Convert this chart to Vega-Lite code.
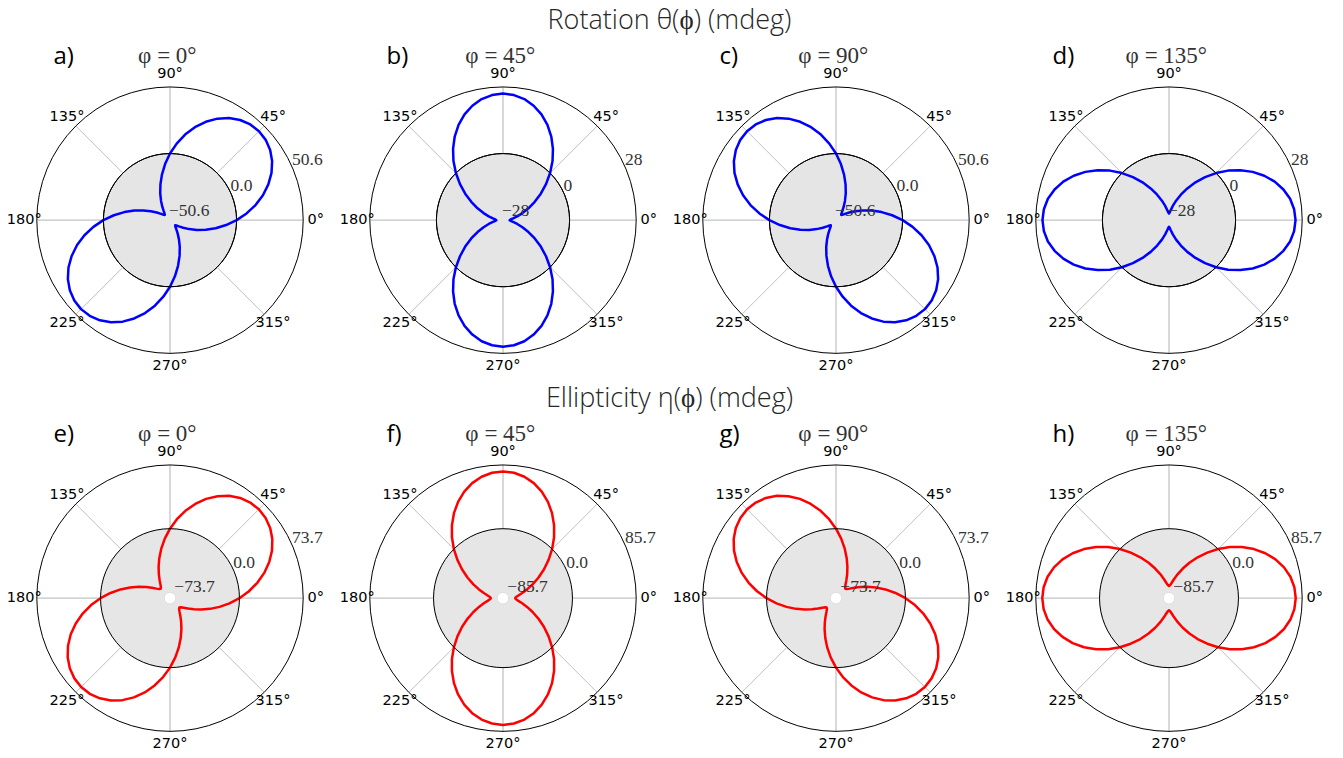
{
  "$schema": "https://vega.github.io/schema/vega-lite/v6.json",
  "padding": {"left": 3.5, "top": 7, "right": 0, "bottom": 0},
  "config": {"view": {"stroke": null}, "axis": {"disable": true}},
  "datasets": {
    "angles": [
      {"a": 0, "l": "0°"}, {"a": 45, "l": "45°"}, {"a": 90, "l": "90°"}, {"a": 135, "l": "135°"},
      {"a": 180, "l": "180°"}, {"a": 225, "l": "225°"}, {"a": 270, "l": "270°"}, {"a": 315, "l": "315°"}
    ],
    "ticks": [
      {"p": "a", "v": -50.6, "l": "−50.6"}, {"p": "a", "v": 0, "l": "0.0"}, {"p": "a", "v": 50.6, "l": "50.6"},
      {"p": "b", "v": -28, "l": "−28"}, {"p": "b", "v": 0, "l": "0"}, {"p": "b", "v": 28, "l": "28"},
      {"p": "c", "v": -50.6, "l": "−50.6"}, {"p": "c", "v": 0, "l": "0.0"}, {"p": "c", "v": 50.6, "l": "50.6"},
      {"p": "d", "v": -28, "l": "−28"}, {"p": "d", "v": 0, "l": "0"}, {"p": "d", "v": 28, "l": "28"},
      {"p": "e", "v": -73.7, "l": "−73.7"}, {"p": "e", "v": 0, "l": "0.0"}, {"p": "e", "v": 73.7, "l": "73.7"},
      {"p": "f", "v": -85.7, "l": "−85.7"}, {"p": "f", "v": 0, "l": "0.0"}, {"p": "f", "v": 85.7, "l": "85.7"},
      {"p": "g", "v": -73.7, "l": "−73.7"}, {"p": "g", "v": 0, "l": "0.0"}, {"p": "g", "v": 73.7, "l": "73.7"},
      {"p": "h", "v": -85.7, "l": "−85.7"}, {"p": "h", "v": 0, "l": "0.0"}, {"p": "h", "v": 85.7, "l": "85.7"}
    ],
    "curves": [
      {"p":"a","t":0,"v":0},{"p":"a","t":5,"v":7.8},{"p":"a","t":10,"v":15.4},{"p":"a","t":15,"v":22.5},{"p":"a","t":20,"v":28.9},{"p":"a","t":25,"v":34.5},{"p":"a","t":30,"v":39},{"p":"a","t":35,"v":42.3},{"p":"a","t":40,"v":44.3},{"p":"a","t":45,"v":45},{"p":"a","t":50,"v":44.3},{"p":"a","t":55,"v":42.3},{"p":"a","t":60,"v":39},{"p":"a","t":65,"v":34.5},{"p":"a","t":70,"v":28.9},{"p":"a","t":75,"v":22.5},{"p":"a","t":80,"v":15.4},{"p":"a","t":85,"v":7.8},
      {"p":"a","t":90,"v":0},{"p":"a","t":95,"v":-7.8},{"p":"a","t":100,"v":-15.4},{"p":"a","t":105,"v":-22.5},{"p":"a","t":110,"v":-28.9},{"p":"a","t":115,"v":-34.5},{"p":"a","t":120,"v":-39},{"p":"a","t":125,"v":-42.3},{"p":"a","t":130,"v":-44.3},{"p":"a","t":135,"v":-45},{"p":"a","t":140,"v":-44.3},{"p":"a","t":145,"v":-42.3},{"p":"a","t":150,"v":-39},{"p":"a","t":155,"v":-34.5},{"p":"a","t":160,"v":-28.9},{"p":"a","t":165,"v":-22.5},{"p":"a","t":170,"v":-15.4},{"p":"a","t":175,"v":-7.8},
      {"p":"a","t":180,"v":0},{"p":"a","t":185,"v":7.8},{"p":"a","t":190,"v":15.4},{"p":"a","t":195,"v":22.5},{"p":"a","t":200,"v":28.9},{"p":"a","t":205,"v":34.5},{"p":"a","t":210,"v":39},{"p":"a","t":215,"v":42.3},{"p":"a","t":220,"v":44.3},{"p":"a","t":225,"v":45},{"p":"a","t":230,"v":44.3},{"p":"a","t":235,"v":42.3},{"p":"a","t":240,"v":39},{"p":"a","t":245,"v":34.5},{"p":"a","t":250,"v":28.9},{"p":"a","t":255,"v":22.5},{"p":"a","t":260,"v":15.4},{"p":"a","t":265,"v":7.8},
      {"p":"a","t":270,"v":0},{"p":"a","t":275,"v":-7.8},{"p":"a","t":280,"v":-15.4},{"p":"a","t":285,"v":-22.5},{"p":"a","t":290,"v":-28.9},{"p":"a","t":295,"v":-34.5},{"p":"a","t":300,"v":-39},{"p":"a","t":305,"v":-42.3},{"p":"a","t":310,"v":-44.3},{"p":"a","t":315,"v":-45},{"p":"a","t":320,"v":-44.3},{"p":"a","t":325,"v":-42.3},{"p":"a","t":330,"v":-39},{"p":"a","t":335,"v":-34.5},{"p":"a","t":340,"v":-28.9},{"p":"a","t":345,"v":-22.5},{"p":"a","t":350,"v":-15.4},{"p":"a","t":355,"v":-7.8},

      {"p":"b","t":0,"v":-25.2},{"p":"b","t":5,"v":-24.8},{"p":"b","t":10,"v":-23.7},{"p":"b","t":15,"v":-21.8},{"p":"b","t":20,"v":-19.3},{"p":"b","t":25,"v":-16.2},{"p":"b","t":30,"v":-12.6},{"p":"b","t":35,"v":-8.6},{"p":"b","t":40,"v":-4.4},{"p":"b","t":45,"v":0},{"p":"b","t":50,"v":4.4},{"p":"b","t":55,"v":8.6},{"p":"b","t":60,"v":12.6},{"p":"b","t":65,"v":16.2},{"p":"b","t":70,"v":19.3},{"p":"b","t":75,"v":21.8},{"p":"b","t":80,"v":23.7},{"p":"b","t":85,"v":24.8},
      {"p":"b","t":90,"v":25.2},{"p":"b","t":95,"v":24.8},{"p":"b","t":100,"v":23.7},{"p":"b","t":105,"v":21.8},{"p":"b","t":110,"v":19.3},{"p":"b","t":115,"v":16.2},{"p":"b","t":120,"v":12.6},{"p":"b","t":125,"v":8.6},{"p":"b","t":130,"v":4.4},{"p":"b","t":135,"v":0},{"p":"b","t":140,"v":-4.4},{"p":"b","t":145,"v":-8.6},{"p":"b","t":150,"v":-12.6},{"p":"b","t":155,"v":-16.2},{"p":"b","t":160,"v":-19.3},{"p":"b","t":165,"v":-21.8},{"p":"b","t":170,"v":-23.7},{"p":"b","t":175,"v":-24.8},
      {"p":"b","t":180,"v":-25.2},{"p":"b","t":185,"v":-24.8},{"p":"b","t":190,"v":-23.7},{"p":"b","t":195,"v":-21.8},{"p":"b","t":200,"v":-19.3},{"p":"b","t":205,"v":-16.2},{"p":"b","t":210,"v":-12.6},{"p":"b","t":215,"v":-8.6},{"p":"b","t":220,"v":-4.4},{"p":"b","t":225,"v":0},{"p":"b","t":230,"v":4.4},{"p":"b","t":235,"v":8.6},{"p":"b","t":240,"v":12.6},{"p":"b","t":245,"v":16.2},{"p":"b","t":250,"v":19.3},{"p":"b","t":255,"v":21.8},{"p":"b","t":260,"v":23.7},{"p":"b","t":265,"v":24.8},
      {"p":"b","t":270,"v":25.2},{"p":"b","t":275,"v":24.8},{"p":"b","t":280,"v":23.7},{"p":"b","t":285,"v":21.8},{"p":"b","t":290,"v":19.3},{"p":"b","t":295,"v":16.2},{"p":"b","t":300,"v":12.6},{"p":"b","t":305,"v":8.6},{"p":"b","t":310,"v":4.4},{"p":"b","t":315,"v":0},{"p":"b","t":320,"v":-4.4},{"p":"b","t":325,"v":-8.6},{"p":"b","t":330,"v":-12.6},{"p":"b","t":335,"v":-16.2},{"p":"b","t":340,"v":-19.3},{"p":"b","t":345,"v":-21.8},{"p":"b","t":350,"v":-23.7},{"p":"b","t":355,"v":-24.8},

      {"p":"c","t":0,"v":0},{"p":"c","t":5,"v":-7.8},{"p":"c","t":10,"v":-15.4},{"p":"c","t":15,"v":-22.5},{"p":"c","t":20,"v":-28.9},{"p":"c","t":25,"v":-34.5},{"p":"c","t":30,"v":-39},{"p":"c","t":35,"v":-42.3},{"p":"c","t":40,"v":-44.3},{"p":"c","t":45,"v":-45},{"p":"c","t":50,"v":-44.3},{"p":"c","t":55,"v":-42.3},{"p":"c","t":60,"v":-39},{"p":"c","t":65,"v":-34.5},{"p":"c","t":70,"v":-28.9},{"p":"c","t":75,"v":-22.5},{"p":"c","t":80,"v":-15.4},{"p":"c","t":85,"v":-7.8},
      {"p":"c","t":90,"v":0},{"p":"c","t":95,"v":7.8},{"p":"c","t":100,"v":15.4},{"p":"c","t":105,"v":22.5},{"p":"c","t":110,"v":28.9},{"p":"c","t":115,"v":34.5},{"p":"c","t":120,"v":39},{"p":"c","t":125,"v":42.3},{"p":"c","t":130,"v":44.3},{"p":"c","t":135,"v":45},{"p":"c","t":140,"v":44.3},{"p":"c","t":145,"v":42.3},{"p":"c","t":150,"v":39},{"p":"c","t":155,"v":34.5},{"p":"c","t":160,"v":28.9},{"p":"c","t":165,"v":22.5},{"p":"c","t":170,"v":15.4},{"p":"c","t":175,"v":7.8},
      {"p":"c","t":180,"v":0},{"p":"c","t":185,"v":-7.8},{"p":"c","t":190,"v":-15.4},{"p":"c","t":195,"v":-22.5},{"p":"c","t":200,"v":-28.9},{"p":"c","t":205,"v":-34.5},{"p":"c","t":210,"v":-39},{"p":"c","t":215,"v":-42.3},{"p":"c","t":220,"v":-44.3},{"p":"c","t":225,"v":-45},{"p":"c","t":230,"v":-44.3},{"p":"c","t":235,"v":-42.3},{"p":"c","t":240,"v":-39},{"p":"c","t":245,"v":-34.5},{"p":"c","t":250,"v":-28.9},{"p":"c","t":255,"v":-22.5},{"p":"c","t":260,"v":-15.4},{"p":"c","t":265,"v":-7.8},
      {"p":"c","t":270,"v":0},{"p":"c","t":275,"v":7.8},{"p":"c","t":280,"v":15.4},{"p":"c","t":285,"v":22.5},{"p":"c","t":290,"v":28.9},{"p":"c","t":295,"v":34.5},{"p":"c","t":300,"v":39},{"p":"c","t":305,"v":42.3},{"p":"c","t":310,"v":44.3},{"p":"c","t":315,"v":45},{"p":"c","t":320,"v":44.3},{"p":"c","t":325,"v":42.3},{"p":"c","t":330,"v":39},{"p":"c","t":335,"v":34.5},{"p":"c","t":340,"v":28.9},{"p":"c","t":345,"v":22.5},{"p":"c","t":350,"v":15.4},{"p":"c","t":355,"v":7.8},

      {"p":"d","t":0,"v":25.2},{"p":"d","t":5,"v":24.8},{"p":"d","t":10,"v":23.7},{"p":"d","t":15,"v":21.8},{"p":"d","t":20,"v":19.3},{"p":"d","t":25,"v":16.2},{"p":"d","t":30,"v":12.6},{"p":"d","t":35,"v":8.6},{"p":"d","t":40,"v":4.4},{"p":"d","t":45,"v":0},{"p":"d","t":50,"v":-4.4},{"p":"d","t":55,"v":-8.6},{"p":"d","t":60,"v":-12.6},{"p":"d","t":65,"v":-16.2},{"p":"d","t":70,"v":-19.3},{"p":"d","t":75,"v":-21.8},{"p":"d","t":80,"v":-23.7},{"p":"d","t":85,"v":-24.8},
      {"p":"d","t":90,"v":-25.2},{"p":"d","t":95,"v":-24.8},{"p":"d","t":100,"v":-23.7},{"p":"d","t":105,"v":-21.8},{"p":"d","t":110,"v":-19.3},{"p":"d","t":115,"v":-16.2},{"p":"d","t":120,"v":-12.6},{"p":"d","t":125,"v":-8.6},{"p":"d","t":130,"v":-4.4},{"p":"d","t":135,"v":0},{"p":"d","t":140,"v":4.4},{"p":"d","t":145,"v":8.6},{"p":"d","t":150,"v":12.6},{"p":"d","t":155,"v":16.2},{"p":"d","t":160,"v":19.3},{"p":"d","t":165,"v":21.8},{"p":"d","t":170,"v":23.7},{"p":"d","t":175,"v":24.8},
      {"p":"d","t":180,"v":25.2},{"p":"d","t":185,"v":24.8},{"p":"d","t":190,"v":23.7},{"p":"d","t":195,"v":21.8},{"p":"d","t":200,"v":19.3},{"p":"d","t":205,"v":16.2},{"p":"d","t":210,"v":12.6},{"p":"d","t":215,"v":8.6},{"p":"d","t":220,"v":4.4},{"p":"d","t":225,"v":0},{"p":"d","t":230,"v":-4.4},{"p":"d","t":235,"v":-8.6},{"p":"d","t":240,"v":-12.6},{"p":"d","t":245,"v":-16.2},{"p":"d","t":250,"v":-19.3},{"p":"d","t":255,"v":-21.8},{"p":"d","t":260,"v":-23.7},{"p":"d","t":265,"v":-24.8},
      {"p":"d","t":270,"v":-25.2},{"p":"d","t":275,"v":-24.8},{"p":"d","t":280,"v":-23.7},{"p":"d","t":285,"v":-21.8},{"p":"d","t":290,"v":-19.3},{"p":"d","t":295,"v":-16.2},{"p":"d","t":300,"v":-12.6},{"p":"d","t":305,"v":-8.6},{"p":"d","t":310,"v":-4.4},{"p":"d","t":315,"v":0},{"p":"d","t":320,"v":4.4},{"p":"d","t":325,"v":8.6},{"p":"d","t":330,"v":12.6},{"p":"d","t":335,"v":16.2},{"p":"d","t":340,"v":19.3},{"p":"d","t":345,"v":21.8},{"p":"d","t":350,"v":23.7},{"p":"d","t":355,"v":24.8},

      {"p":"e","t":0,"v":0},{"p":"e","t":5,"v":11.3},{"p":"e","t":10,"v":22.2},{"p":"e","t":15,"v":32.5},{"p":"e","t":20,"v":41.8},{"p":"e","t":25,"v":49.8},{"p":"e","t":30,"v":56.3},{"p":"e","t":35,"v":61.1},{"p":"e","t":40,"v":64},{"p":"e","t":45,"v":65},{"p":"e","t":50,"v":64},{"p":"e","t":55,"v":61.1},{"p":"e","t":60,"v":56.3},{"p":"e","t":65,"v":49.8},{"p":"e","t":70,"v":41.8},{"p":"e","t":75,"v":32.5},{"p":"e","t":80,"v":22.2},{"p":"e","t":85,"v":11.3},
      {"p":"e","t":90,"v":0},{"p":"e","t":95,"v":-11.3},{"p":"e","t":100,"v":-22.2},{"p":"e","t":105,"v":-32.5},{"p":"e","t":110,"v":-41.8},{"p":"e","t":115,"v":-49.8},{"p":"e","t":120,"v":-56.3},{"p":"e","t":125,"v":-61.1},{"p":"e","t":130,"v":-64},{"p":"e","t":135,"v":-65},{"p":"e","t":140,"v":-64},{"p":"e","t":145,"v":-61.1},{"p":"e","t":150,"v":-56.3},{"p":"e","t":155,"v":-49.8},{"p":"e","t":160,"v":-41.8},{"p":"e","t":165,"v":-32.5},{"p":"e","t":170,"v":-22.2},{"p":"e","t":175,"v":-11.3},
      {"p":"e","t":180,"v":0},{"p":"e","t":185,"v":11.3},{"p":"e","t":190,"v":22.2},{"p":"e","t":195,"v":32.5},{"p":"e","t":200,"v":41.8},{"p":"e","t":205,"v":49.8},{"p":"e","t":210,"v":56.3},{"p":"e","t":215,"v":61.1},{"p":"e","t":220,"v":64},{"p":"e","t":225,"v":65},{"p":"e","t":230,"v":64},{"p":"e","t":235,"v":61.1},{"p":"e","t":240,"v":56.3},{"p":"e","t":245,"v":49.8},{"p":"e","t":250,"v":41.8},{"p":"e","t":255,"v":32.5},{"p":"e","t":260,"v":22.2},{"p":"e","t":265,"v":11.3},
      {"p":"e","t":270,"v":0},{"p":"e","t":275,"v":-11.3},{"p":"e","t":280,"v":-22.2},{"p":"e","t":285,"v":-32.5},{"p":"e","t":290,"v":-41.8},{"p":"e","t":295,"v":-49.8},{"p":"e","t":300,"v":-56.3},{"p":"e","t":305,"v":-61.1},{"p":"e","t":310,"v":-64},{"p":"e","t":315,"v":-65},{"p":"e","t":320,"v":-64},{"p":"e","t":325,"v":-61.1},{"p":"e","t":330,"v":-56.3},{"p":"e","t":335,"v":-49.8},{"p":"e","t":340,"v":-41.8},{"p":"e","t":345,"v":-32.5},{"p":"e","t":350,"v":-22.2},{"p":"e","t":355,"v":-11.3},

      {"p":"f","t":0,"v":-77},{"p":"f","t":5,"v":-75.8},{"p":"f","t":10,"v":-72.4},{"p":"f","t":15,"v":-66.7},{"p":"f","t":20,"v":-59},{"p":"f","t":25,"v":-49.5},{"p":"f","t":30,"v":-38.5},{"p":"f","t":35,"v":-26.3},{"p":"f","t":40,"v":-13.4},{"p":"f","t":45,"v":0},{"p":"f","t":50,"v":13.4},{"p":"f","t":55,"v":26.3},{"p":"f","t":60,"v":38.5},{"p":"f","t":65,"v":49.5},{"p":"f","t":70,"v":59},{"p":"f","t":75,"v":66.7},{"p":"f","t":80,"v":72.4},{"p":"f","t":85,"v":75.8},
      {"p":"f","t":90,"v":77},{"p":"f","t":95,"v":75.8},{"p":"f","t":100,"v":72.4},{"p":"f","t":105,"v":66.7},{"p":"f","t":110,"v":59},{"p":"f","t":115,"v":49.5},{"p":"f","t":120,"v":38.5},{"p":"f","t":125,"v":26.3},{"p":"f","t":130,"v":13.4},{"p":"f","t":135,"v":0},{"p":"f","t":140,"v":-13.4},{"p":"f","t":145,"v":-26.3},{"p":"f","t":150,"v":-38.5},{"p":"f","t":155,"v":-49.5},{"p":"f","t":160,"v":-59},{"p":"f","t":165,"v":-66.7},{"p":"f","t":170,"v":-72.4},{"p":"f","t":175,"v":-75.8},
      {"p":"f","t":180,"v":-77},{"p":"f","t":185,"v":-75.8},{"p":"f","t":190,"v":-72.4},{"p":"f","t":195,"v":-66.7},{"p":"f","t":200,"v":-59},{"p":"f","t":205,"v":-49.5},{"p":"f","t":210,"v":-38.5},{"p":"f","t":215,"v":-26.3},{"p":"f","t":220,"v":-13.4},{"p":"f","t":225,"v":0},{"p":"f","t":230,"v":13.4},{"p":"f","t":235,"v":26.3},{"p":"f","t":240,"v":38.5},{"p":"f","t":245,"v":49.5},{"p":"f","t":250,"v":59},{"p":"f","t":255,"v":66.7},{"p":"f","t":260,"v":72.4},{"p":"f","t":265,"v":75.8},
      {"p":"f","t":270,"v":77},{"p":"f","t":275,"v":75.8},{"p":"f","t":280,"v":72.4},{"p":"f","t":285,"v":66.7},{"p":"f","t":290,"v":59},{"p":"f","t":295,"v":49.5},{"p":"f","t":300,"v":38.5},{"p":"f","t":305,"v":26.3},{"p":"f","t":310,"v":13.4},{"p":"f","t":315,"v":0},{"p":"f","t":320,"v":-13.4},{"p":"f","t":325,"v":-26.3},{"p":"f","t":330,"v":-38.5},{"p":"f","t":335,"v":-49.5},{"p":"f","t":340,"v":-59},{"p":"f","t":345,"v":-66.7},{"p":"f","t":350,"v":-72.4},{"p":"f","t":355,"v":-75.8},

      {"p":"g","t":0,"v":0},{"p":"g","t":5,"v":-11.3},{"p":"g","t":10,"v":-22.2},{"p":"g","t":15,"v":-32.5},{"p":"g","t":20,"v":-41.8},{"p":"g","t":25,"v":-49.8},{"p":"g","t":30,"v":-56.3},{"p":"g","t":35,"v":-61.1},{"p":"g","t":40,"v":-64},{"p":"g","t":45,"v":-65},{"p":"g","t":50,"v":-64},{"p":"g","t":55,"v":-61.1},{"p":"g","t":60,"v":-56.3},{"p":"g","t":65,"v":-49.8},{"p":"g","t":70,"v":-41.8},{"p":"g","t":75,"v":-32.5},{"p":"g","t":80,"v":-22.2},{"p":"g","t":85,"v":-11.3},
      {"p":"g","t":90,"v":0},{"p":"g","t":95,"v":11.3},{"p":"g","t":100,"v":22.2},{"p":"g","t":105,"v":32.5},{"p":"g","t":110,"v":41.8},{"p":"g","t":115,"v":49.8},{"p":"g","t":120,"v":56.3},{"p":"g","t":125,"v":61.1},{"p":"g","t":130,"v":64},{"p":"g","t":135,"v":65},{"p":"g","t":140,"v":64},{"p":"g","t":145,"v":61.1},{"p":"g","t":150,"v":56.3},{"p":"g","t":155,"v":49.8},{"p":"g","t":160,"v":41.8},{"p":"g","t":165,"v":32.5},{"p":"g","t":170,"v":22.2},{"p":"g","t":175,"v":11.3},
      {"p":"g","t":180,"v":0},{"p":"g","t":185,"v":-11.3},{"p":"g","t":190,"v":-22.2},{"p":"g","t":195,"v":-32.5},{"p":"g","t":200,"v":-41.8},{"p":"g","t":205,"v":-49.8},{"p":"g","t":210,"v":-56.3},{"p":"g","t":215,"v":-61.1},{"p":"g","t":220,"v":-64},{"p":"g","t":225,"v":-65},{"p":"g","t":230,"v":-64},{"p":"g","t":235,"v":-61.1},{"p":"g","t":240,"v":-56.3},{"p":"g","t":245,"v":-49.8},{"p":"g","t":250,"v":-41.8},{"p":"g","t":255,"v":-32.5},{"p":"g","t":260,"v":-22.2},{"p":"g","t":265,"v":-11.3},
      {"p":"g","t":270,"v":0},{"p":"g","t":275,"v":11.3},{"p":"g","t":280,"v":22.2},{"p":"g","t":285,"v":32.5},{"p":"g","t":290,"v":41.8},{"p":"g","t":295,"v":49.8},{"p":"g","t":300,"v":56.3},{"p":"g","t":305,"v":61.1},{"p":"g","t":310,"v":64},{"p":"g","t":315,"v":65},{"p":"g","t":320,"v":64},{"p":"g","t":325,"v":61.1},{"p":"g","t":330,"v":56.3},{"p":"g","t":335,"v":49.8},{"p":"g","t":340,"v":41.8},{"p":"g","t":345,"v":32.5},{"p":"g","t":350,"v":22.2},{"p":"g","t":355,"v":11.3},

      {"p":"h","t":0,"v":77},{"p":"h","t":5,"v":75.8},{"p":"h","t":10,"v":72.4},{"p":"h","t":15,"v":66.7},{"p":"h","t":20,"v":59},{"p":"h","t":25,"v":49.5},{"p":"h","t":30,"v":38.5},{"p":"h","t":35,"v":26.3},{"p":"h","t":40,"v":13.4},{"p":"h","t":45,"v":0},{"p":"h","t":50,"v":-13.4},{"p":"h","t":55,"v":-26.3},{"p":"h","t":60,"v":-38.5},{"p":"h","t":65,"v":-49.5},{"p":"h","t":70,"v":-59},{"p":"h","t":75,"v":-66.7},{"p":"h","t":80,"v":-72.4},{"p":"h","t":85,"v":-75.8},
      {"p":"h","t":90,"v":-77},{"p":"h","t":95,"v":-75.8},{"p":"h","t":100,"v":-72.4},{"p":"h","t":105,"v":-66.7},{"p":"h","t":110,"v":-59},{"p":"h","t":115,"v":-49.5},{"p":"h","t":120,"v":-38.5},{"p":"h","t":125,"v":-26.3},{"p":"h","t":130,"v":-13.4},{"p":"h","t":135,"v":0},{"p":"h","t":140,"v":13.4},{"p":"h","t":145,"v":26.3},{"p":"h","t":150,"v":38.5},{"p":"h","t":155,"v":49.5},{"p":"h","t":160,"v":59},{"p":"h","t":165,"v":66.7},{"p":"h","t":170,"v":72.4},{"p":"h","t":175,"v":75.8},
      {"p":"h","t":180,"v":77},{"p":"h","t":185,"v":75.8},{"p":"h","t":190,"v":72.4},{"p":"h","t":195,"v":66.7},{"p":"h","t":200,"v":59},{"p":"h","t":205,"v":49.5},{"p":"h","t":210,"v":38.5},{"p":"h","t":215,"v":26.3},{"p":"h","t":220,"v":13.4},{"p":"h","t":225,"v":0},{"p":"h","t":230,"v":-13.4},{"p":"h","t":235,"v":-26.3},{"p":"h","t":240,"v":-38.5},{"p":"h","t":245,"v":-49.5},{"p":"h","t":250,"v":-59},{"p":"h","t":255,"v":-66.7},{"p":"h","t":260,"v":-72.4},{"p":"h","t":265,"v":-75.8},
      {"p":"h","t":270,"v":-77},{"p":"h","t":275,"v":-75.8},{"p":"h","t":280,"v":-72.4},{"p":"h","t":285,"v":-66.7},{"p":"h","t":290,"v":-59},{"p":"h","t":295,"v":-49.5},{"p":"h","t":300,"v":-38.5},{"p":"h","t":305,"v":-26.3},{"p":"h","t":310,"v":-13.4},{"p":"h","t":315,"v":0},{"p":"h","t":320,"v":13.4},{"p":"h","t":325,"v":26.3},{"p":"h","t":330,"v":38.5},{"p":"h","t":335,"v":49.5},{"p":"h","t":340,"v":59},{"p":"h","t":345,"v":66.7},{"p":"h","t":350,"v":72.4},{"p":"h","t":355,"v":75.8}
    ]
  },
  "spacing": 10,
  "vconcat": [
    {
      "title": {"text": "Rotation θ(ϕ) (mdeg)", "anchor": "middle", "font": "Open Sans", "fontSize": 27, "fontWeight": 300, "color": "#262626", "offset": 4},
      "spacing": 0,
      "hconcat": [
        {
          "width": 333, "height": 336,
          "layer": [
            {"data": {"values": [{"lo": -50.6, "hi": 0}]}, "mark": {"type": "arc", "fill": "#e5e5e5", "stroke": "#000000", "strokeWidth": 1},
             "encoding": {"x": {"datum": 0, "type": "quantitative", "scale": {"domain": [-1.25, 1.25], "nice": false, "zero": false}}, "y": {"datum": 0, "type": "quantitative", "scale": {"domain": [-1.1625, 1.36], "nice": false, "zero": false}}, "theta": {"datum": 0, "type": "quantitative", "scale": {"domain": [0, 360], "range": [1.5707963267948966, -4.71238898038469]}}, "theta2": {"datum": 360}, "radius": {"field": "hi", "type": "quantitative", "scale": {"type": "linear", "zero": false, "nice": false, "domain": [-50.6, 75.9], "range": [0, 166.5]}}, "radius2": {"field": "lo"}}},
            {"data": {"name": "angles"}, "mark": {"type": "arc", "fill": "transparent", "stroke": "#cccccc", "strokeWidth": 1},
             "encoding": {"x": {"datum": 0, "type": "quantitative"}, "y": {"datum": 0, "type": "quantitative"}, "theta": {"field": "a", "type": "quantitative", "stack": null}, "theta2": {"field": "a"}, "radius": {"datum": 50.6, "type": "quantitative"}}},
            {"data": {"name": "curves"}, "transform": [{"filter": "datum.p === 'a'"}, {"calculate": "(datum.v + 50.6) / 101.2", "as": "r"}, {"calculate": "datum.r * cos(datum.t * PI / 180)", "as": "px"}, {"calculate": "datum.r * sin(datum.t * PI / 180)", "as": "py"}],
             "mark": {"type": "line", "color": "#0000ff", "strokeWidth": 2.5, "interpolate": "linear-closed", "strokeJoin": "round"},
             "encoding": {"x": {"field": "px", "type": "quantitative"}, "y": {"field": "py", "type": "quantitative"}, "order": {"field": "t", "type": "quantitative"}}},
            {"data": {"values": [{"hi": 50.6}]}, "mark": {"type": "arc", "fill": "transparent", "stroke": "#000000", "strokeWidth": 1},
             "encoding": {"x": {"datum": 0, "type": "quantitative"}, "y": {"datum": 0, "type": "quantitative"}, "theta": {"datum": 0, "type": "quantitative"}, "theta2": {"datum": 360}, "radius": {"field": "hi", "type": "quantitative"}}},
            {"data": {"name": "ticks"}, "transform": [{"filter": "datum.p === 'a'"}],
             "mark": {"type": "text", "align": "left", "baseline": "alphabetic", "dx": -1, "dy": -4, "font": "Liberation Serif", "fontSize": 17.5, "color": "#333333"},
             "encoding": {"x": {"datum": 0, "type": "quantitative"}, "y": {"datum": 0, "type": "quantitative"}, "theta": {"datum": 22.5, "type": "quantitative"}, "radius": {"field": "v", "type": "quantitative"}, "text": {"field": "l"}}},
            {"data": {"name": "angles"}, "mark": {"type": "text", "font": "DejaVu Sans", "fontSize": 14.5, "color": "#000000", "radiusOffset": 12.5},
             "encoding": {"x": {"datum": 0, "type": "quantitative"}, "y": {"datum": 0, "type": "quantitative"}, "theta": {"field": "a", "type": "quantitative", "stack": null}, "radius": {"datum": 50.6, "type": "quantitative"}, "text": {"field": "l"}}},
            {"data": {"values": [{"l": "a)"}]}, "mark": {"type": "text", "align": "left", "baseline": "alphabetic", "font": "Open Sans", "fontSize": 24, "color": "#000000"},
             "encoding": {"x": {"datum": -0.875, "type": "quantitative"}, "y": {"datum": 1.173, "type": "quantitative"}, "text": {"field": "l"}}},
            {"data": {"values": [{"l": "φ = 0°"}]}, "mark": {"type": "text", "align": "center", "baseline": "alphabetic", "font": "Liberation Serif", "fontSize": 23, "color": "#333333"},
             "encoding": {"x": {"datum": -0.02, "type": "quantitative"}, "y": {"datum": 1.18, "type": "quantitative"}, "text": {"field": "l"}}}
          ]
        },
        {
          "width": 333, "height": 336,
          "layer": [
            {"data": {"values": [{"lo": -28, "hi": 0}]}, "mark": {"type": "arc", "fill": "#e5e5e5", "stroke": "#000000", "strokeWidth": 1},
             "encoding": {"x": {"datum": 0, "type": "quantitative", "scale": {"domain": [-1.25, 1.25], "nice": false, "zero": false}}, "y": {"datum": 0, "type": "quantitative", "scale": {"domain": [-1.1625, 1.36], "nice": false, "zero": false}}, "theta": {"datum": 0, "type": "quantitative", "scale": {"domain": [0, 360], "range": [1.5707963267948966, -4.71238898038469]}}, "theta2": {"datum": 360}, "radius": {"field": "hi", "type": "quantitative", "scale": {"type": "linear", "zero": false, "nice": false, "domain": [-28, 42], "range": [0, 166.5]}}, "radius2": {"field": "lo"}}},
            {"data": {"name": "angles"}, "mark": {"type": "arc", "fill": "transparent", "stroke": "#cccccc", "strokeWidth": 1},
             "encoding": {"x": {"datum": 0, "type": "quantitative"}, "y": {"datum": 0, "type": "quantitative"}, "theta": {"field": "a", "type": "quantitative", "stack": null}, "theta2": {"field": "a"}, "radius": {"datum": 28, "type": "quantitative"}}},
            {"data": {"name": "curves"}, "transform": [{"filter": "datum.p === 'b'"}, {"calculate": "(datum.v + 28) / 56", "as": "r"}, {"calculate": "datum.r * cos(datum.t * PI / 180)", "as": "px"}, {"calculate": "datum.r * sin(datum.t * PI / 180)", "as": "py"}],
             "mark": {"type": "line", "color": "#0000ff", "strokeWidth": 2.5, "interpolate": "linear-closed", "strokeJoin": "round"},
             "encoding": {"x": {"field": "px", "type": "quantitative"}, "y": {"field": "py", "type": "quantitative"}, "order": {"field": "t", "type": "quantitative"}}},
            {"data": {"values": [{"hi": 28}]}, "mark": {"type": "arc", "fill": "transparent", "stroke": "#000000", "strokeWidth": 1},
             "encoding": {"x": {"datum": 0, "type": "quantitative"}, "y": {"datum": 0, "type": "quantitative"}, "theta": {"datum": 0, "type": "quantitative"}, "theta2": {"datum": 360}, "radius": {"field": "hi", "type": "quantitative"}}},
            {"data": {"name": "ticks"}, "transform": [{"filter": "datum.p === 'b'"}],
             "mark": {"type": "text", "align": "left", "baseline": "alphabetic", "dx": -1, "dy": -4, "font": "Liberation Serif", "fontSize": 17.5, "color": "#333333"},
             "encoding": {"x": {"datum": 0, "type": "quantitative"}, "y": {"datum": 0, "type": "quantitative"}, "theta": {"datum": 22.5, "type": "quantitative"}, "radius": {"field": "v", "type": "quantitative"}, "text": {"field": "l"}}},
            {"data": {"name": "angles"}, "mark": {"type": "text", "font": "DejaVu Sans", "fontSize": 14.5, "color": "#000000", "radiusOffset": 12.5},
             "encoding": {"x": {"datum": 0, "type": "quantitative"}, "y": {"datum": 0, "type": "quantitative"}, "theta": {"field": "a", "type": "quantitative", "stack": null}, "radius": {"datum": 28, "type": "quantitative"}, "text": {"field": "l"}}},
            {"data": {"values": [{"l": "b)"}]}, "mark": {"type": "text", "align": "left", "baseline": "alphabetic", "font": "Open Sans", "fontSize": 24, "color": "#000000"},
             "encoding": {"x": {"datum": -0.875, "type": "quantitative"}, "y": {"datum": 1.173, "type": "quantitative"}, "text": {"field": "l"}}},
            {"data": {"values": [{"l": "φ = 45°"}]}, "mark": {"type": "text", "align": "center", "baseline": "alphabetic", "font": "Liberation Serif", "fontSize": 23, "color": "#333333"},
             "encoding": {"x": {"datum": -0.02, "type": "quantitative"}, "y": {"datum": 1.18, "type": "quantitative"}, "text": {"field": "l"}}}
          ]
        },
        {
          "width": 333, "height": 336,
          "layer": [
            {"data": {"values": [{"lo": -50.6, "hi": 0}]}, "mark": {"type": "arc", "fill": "#e5e5e5", "stroke": "#000000", "strokeWidth": 1},
             "encoding": {"x": {"datum": 0, "type": "quantitative", "scale": {"domain": [-1.25, 1.25], "nice": false, "zero": false}}, "y": {"datum": 0, "type": "quantitative", "scale": {"domain": [-1.1625, 1.36], "nice": false, "zero": false}}, "theta": {"datum": 0, "type": "quantitative", "scale": {"domain": [0, 360], "range": [1.5707963267948966, -4.71238898038469]}}, "theta2": {"datum": 360}, "radius": {"field": "hi", "type": "quantitative", "scale": {"type": "linear", "zero": false, "nice": false, "domain": [-50.6, 75.9], "range": [0, 166.5]}}, "radius2": {"field": "lo"}}},
            {"data": {"name": "angles"}, "mark": {"type": "arc", "fill": "transparent", "stroke": "#cccccc", "strokeWidth": 1},
             "encoding": {"x": {"datum": 0, "type": "quantitative"}, "y": {"datum": 0, "type": "quantitative"}, "theta": {"field": "a", "type": "quantitative", "stack": null}, "theta2": {"field": "a"}, "radius": {"datum": 50.6, "type": "quantitative"}}},
            {"data": {"name": "curves"}, "transform": [{"filter": "datum.p === 'c'"}, {"calculate": "(datum.v + 50.6) / 101.2", "as": "r"}, {"calculate": "datum.r * cos(datum.t * PI / 180)", "as": "px"}, {"calculate": "datum.r * sin(datum.t * PI / 180)", "as": "py"}],
             "mark": {"type": "line", "color": "#0000ff", "strokeWidth": 2.5, "interpolate": "linear-closed", "strokeJoin": "round"},
             "encoding": {"x": {"field": "px", "type": "quantitative"}, "y": {"field": "py", "type": "quantitative"}, "order": {"field": "t", "type": "quantitative"}}},
            {"data": {"values": [{"hi": 50.6}]}, "mark": {"type": "arc", "fill": "transparent", "stroke": "#000000", "strokeWidth": 1},
             "encoding": {"x": {"datum": 0, "type": "quantitative"}, "y": {"datum": 0, "type": "quantitative"}, "theta": {"datum": 0, "type": "quantitative"}, "theta2": {"datum": 360}, "radius": {"field": "hi", "type": "quantitative"}}},
            {"data": {"name": "ticks"}, "transform": [{"filter": "datum.p === 'c'"}],
             "mark": {"type": "text", "align": "left", "baseline": "alphabetic", "dx": -1, "dy": -4, "font": "Liberation Serif", "fontSize": 17.5, "color": "#333333"},
             "encoding": {"x": {"datum": 0, "type": "quantitative"}, "y": {"datum": 0, "type": "quantitative"}, "theta": {"datum": 22.5, "type": "quantitative"}, "radius": {"field": "v", "type": "quantitative"}, "text": {"field": "l"}}},
            {"data": {"name": "angles"}, "mark": {"type": "text", "font": "DejaVu Sans", "fontSize": 14.5, "color": "#000000", "radiusOffset": 12.5},
             "encoding": {"x": {"datum": 0, "type": "quantitative"}, "y": {"datum": 0, "type": "quantitative"}, "theta": {"field": "a", "type": "quantitative", "stack": null}, "radius": {"datum": 50.6, "type": "quantitative"}, "text": {"field": "l"}}},
            {"data": {"values": [{"l": "c)"}]}, "mark": {"type": "text", "align": "left", "baseline": "alphabetic", "font": "Open Sans", "fontSize": 24, "color": "#000000"},
             "encoding": {"x": {"datum": -0.875, "type": "quantitative"}, "y": {"datum": 1.173, "type": "quantitative"}, "text": {"field": "l"}}},
            {"data": {"values": [{"l": "φ = 90°"}]}, "mark": {"type": "text", "align": "center", "baseline": "alphabetic", "font": "Liberation Serif", "fontSize": 23, "color": "#333333"},
             "encoding": {"x": {"datum": -0.02, "type": "quantitative"}, "y": {"datum": 1.18, "type": "quantitative"}, "text": {"field": "l"}}}
          ]
        },
        {
          "width": 333, "height": 336,
          "layer": [
            {"data": {"values": [{"lo": -28, "hi": 0}]}, "mark": {"type": "arc", "fill": "#e5e5e5", "stroke": "#000000", "strokeWidth": 1},
             "encoding": {"x": {"datum": 0, "type": "quantitative", "scale": {"domain": [-1.25, 1.25], "nice": false, "zero": false}}, "y": {"datum": 0, "type": "quantitative", "scale": {"domain": [-1.1625, 1.36], "nice": false, "zero": false}}, "theta": {"datum": 0, "type": "quantitative", "scale": {"domain": [0, 360], "range": [1.5707963267948966, -4.71238898038469]}}, "theta2": {"datum": 360}, "radius": {"field": "hi", "type": "quantitative", "scale": {"type": "linear", "zero": false, "nice": false, "domain": [-28, 42], "range": [0, 166.5]}}, "radius2": {"field": "lo"}}},
            {"data": {"name": "angles"}, "mark": {"type": "arc", "fill": "transparent", "stroke": "#cccccc", "strokeWidth": 1},
             "encoding": {"x": {"datum": 0, "type": "quantitative"}, "y": {"datum": 0, "type": "quantitative"}, "theta": {"field": "a", "type": "quantitative", "stack": null}, "theta2": {"field": "a"}, "radius": {"datum": 28, "type": "quantitative"}}},
            {"data": {"name": "curves"}, "transform": [{"filter": "datum.p === 'd'"}, {"calculate": "(datum.v + 28) / 56", "as": "r"}, {"calculate": "datum.r * cos(datum.t * PI / 180)", "as": "px"}, {"calculate": "datum.r * sin(datum.t * PI / 180)", "as": "py"}],
             "mark": {"type": "line", "color": "#0000ff", "strokeWidth": 2.5, "interpolate": "linear-closed", "strokeJoin": "round"},
             "encoding": {"x": {"field": "px", "type": "quantitative"}, "y": {"field": "py", "type": "quantitative"}, "order": {"field": "t", "type": "quantitative"}}},
            {"data": {"values": [{"hi": 28}]}, "mark": {"type": "arc", "fill": "transparent", "stroke": "#000000", "strokeWidth": 1},
             "encoding": {"x": {"datum": 0, "type": "quantitative"}, "y": {"datum": 0, "type": "quantitative"}, "theta": {"datum": 0, "type": "quantitative"}, "theta2": {"datum": 360}, "radius": {"field": "hi", "type": "quantitative"}}},
            {"data": {"name": "ticks"}, "transform": [{"filter": "datum.p === 'd'"}],
             "mark": {"type": "text", "align": "left", "baseline": "alphabetic", "dx": -1, "dy": -4, "font": "Liberation Serif", "fontSize": 17.5, "color": "#333333"},
             "encoding": {"x": {"datum": 0, "type": "quantitative"}, "y": {"datum": 0, "type": "quantitative"}, "theta": {"datum": 22.5, "type": "quantitative"}, "radius": {"field": "v", "type": "quantitative"}, "text": {"field": "l"}}},
            {"data": {"name": "angles"}, "mark": {"type": "text", "font": "DejaVu Sans", "fontSize": 14.5, "color": "#000000", "radiusOffset": 12.5},
             "encoding": {"x": {"datum": 0, "type": "quantitative"}, "y": {"datum": 0, "type": "quantitative"}, "theta": {"field": "a", "type": "quantitative", "stack": null}, "radius": {"datum": 28, "type": "quantitative"}, "text": {"field": "l"}}},
            {"data": {"values": [{"l": "d)"}]}, "mark": {"type": "text", "align": "left", "baseline": "alphabetic", "font": "Open Sans", "fontSize": 24, "color": "#000000"},
             "encoding": {"x": {"datum": -0.875, "type": "quantitative"}, "y": {"datum": 1.173, "type": "quantitative"}, "text": {"field": "l"}}},
            {"data": {"values": [{"l": "φ = 135°"}]}, "mark": {"type": "text", "align": "center", "baseline": "alphabetic", "font": "Liberation Serif", "fontSize": 23, "color": "#333333"},
             "encoding": {"x": {"datum": -0.02, "type": "quantitative"}, "y": {"datum": 1.18, "type": "quantitative"}, "text": {"field": "l"}}}
          ]
        }
      ]
    },
    {
      "title": {"text": "Ellipticity η(ϕ) (mdeg)", "anchor": "middle", "font": "Open Sans", "fontSize": 27, "fontWeight": 300, "color": "#262626", "offset": 4},
      "spacing": 0,
      "hconcat": [
        {
          "width": 333, "height": 336,
          "layer": [
            {"data": {"values": [{"lo": -73.7, "hi": 0}]}, "mark": {"type": "arc", "fill": "#e6e6e6", "stroke": "#dadada", "strokeWidth": 0.8},
             "encoding": {"x": {"datum": 0, "type": "quantitative", "scale": {"domain": [-1.25, 1.25], "nice": false, "zero": false}}, "y": {"datum": 0, "type": "quantitative", "scale": {"domain": [-1.1625, 1.36], "nice": false, "zero": false}}, "theta": {"datum": 0, "type": "quantitative", "scale": {"domain": [0, 360], "range": [1.5707963267948966, -4.71238898038469]}}, "theta2": {"datum": 360}, "radius": {"field": "hi", "type": "quantitative", "scale": {"type": "linear", "zero": false, "nice": false, "domain": [-80.33, 112.21], "range": [0, 166.5]}}, "radius2": {"field": "lo"}}},
            {"data": {"name": "angles"}, "mark": {"type": "arc", "fill": "transparent", "stroke": "#cccccc", "strokeWidth": 1},
             "encoding": {"x": {"datum": 0, "type": "quantitative"}, "y": {"datum": 0, "type": "quantitative"}, "theta": {"field": "a", "type": "quantitative", "stack": null}, "theta2": {"field": "a"}, "radius": {"datum": 73.7, "type": "quantitative"}}},
            {"data": {"name": "curves"}, "transform": [{"filter": "datum.p === 'e'"}, {"calculate": "(datum.v + 80.33) / 154.03", "as": "r"}, {"calculate": "datum.r * cos(datum.t * PI / 180)", "as": "px"}, {"calculate": "datum.r * sin(datum.t * PI / 180)", "as": "py"}],
             "mark": {"type": "line", "color": "#ff0000", "strokeWidth": 2.5, "interpolate": "linear-closed", "strokeJoin": "round"},
             "encoding": {"x": {"field": "px", "type": "quantitative"}, "y": {"field": "py", "type": "quantitative"}, "order": {"field": "t", "type": "quantitative"}}},
            {"data": {"values": [{"hi": 73.7}]}, "mark": {"type": "arc", "fill": "transparent", "stroke": "#000000", "strokeWidth": 1},
             "encoding": {"x": {"datum": 0, "type": "quantitative"}, "y": {"datum": 0, "type": "quantitative"}, "theta": {"datum": 0, "type": "quantitative"}, "theta2": {"datum": 360}, "radius": {"field": "hi", "type": "quantitative"}}},
            {"data": {"name": "ticks"}, "transform": [{"filter": "datum.p === 'e'"}],
             "mark": {"type": "text", "align": "left", "baseline": "alphabetic", "dx": -1, "dy": -4, "font": "Liberation Serif", "fontSize": 17.5, "color": "#333333"},
             "encoding": {"x": {"datum": 0, "type": "quantitative"}, "y": {"datum": 0, "type": "quantitative"}, "theta": {"datum": 22.5, "type": "quantitative"}, "radius": {"field": "v", "type": "quantitative"}, "text": {"field": "l"}}},
            {"data": {"name": "angles"}, "mark": {"type": "text", "font": "DejaVu Sans", "fontSize": 14.5, "color": "#000000", "radiusOffset": 12.5},
             "encoding": {"x": {"datum": 0, "type": "quantitative"}, "y": {"datum": 0, "type": "quantitative"}, "theta": {"field": "a", "type": "quantitative", "stack": null}, "radius": {"datum": 73.7, "type": "quantitative"}, "text": {"field": "l"}}},
            {"data": {"values": [{"l": "e)"}]}, "mark": {"type": "text", "align": "left", "baseline": "alphabetic", "font": "Open Sans", "fontSize": 24, "color": "#000000"},
             "encoding": {"x": {"datum": -0.875, "type": "quantitative"}, "y": {"datum": 1.173, "type": "quantitative"}, "text": {"field": "l"}}},
            {"data": {"values": [{"l": "φ = 0°"}]}, "mark": {"type": "text", "align": "center", "baseline": "alphabetic", "font": "Liberation Serif", "fontSize": 23, "color": "#333333"},
             "encoding": {"x": {"datum": -0.02, "type": "quantitative"}, "y": {"datum": 1.18, "type": "quantitative"}, "text": {"field": "l"}}}
          ]
        },
        {
          "width": 333, "height": 336,
          "layer": [
            {"data": {"values": [{"lo": -85.7, "hi": 0}]}, "mark": {"type": "arc", "fill": "#e6e6e6", "stroke": "#dadada", "strokeWidth": 0.8},
             "encoding": {"x": {"datum": 0, "type": "quantitative", "scale": {"domain": [-1.25, 1.25], "nice": false, "zero": false}}, "y": {"datum": 0, "type": "quantitative", "scale": {"domain": [-1.1625, 1.36], "nice": false, "zero": false}}, "theta": {"datum": 0, "type": "quantitative", "scale": {"domain": [0, 360], "range": [1.5707963267948966, -4.71238898038469]}}, "theta2": {"datum": 360}, "radius": {"field": "hi", "type": "quantitative", "scale": {"type": "linear", "zero": false, "nice": false, "domain": [-93.41, 130.48], "range": [0, 166.5]}}, "radius2": {"field": "lo"}}},
            {"data": {"name": "angles"}, "mark": {"type": "arc", "fill": "transparent", "stroke": "#cccccc", "strokeWidth": 1},
             "encoding": {"x": {"datum": 0, "type": "quantitative"}, "y": {"datum": 0, "type": "quantitative"}, "theta": {"field": "a", "type": "quantitative", "stack": null}, "theta2": {"field": "a"}, "radius": {"datum": 85.7, "type": "quantitative"}}},
            {"data": {"name": "curves"}, "transform": [{"filter": "datum.p === 'f'"}, {"calculate": "(datum.v + 93.41) / 179.11", "as": "r"}, {"calculate": "datum.r * cos(datum.t * PI / 180)", "as": "px"}, {"calculate": "datum.r * sin(datum.t * PI / 180)", "as": "py"}],
             "mark": {"type": "line", "color": "#ff0000", "strokeWidth": 2.5, "interpolate": "linear-closed", "strokeJoin": "round"},
             "encoding": {"x": {"field": "px", "type": "quantitative"}, "y": {"field": "py", "type": "quantitative"}, "order": {"field": "t", "type": "quantitative"}}},
            {"data": {"values": [{"hi": 85.7}]}, "mark": {"type": "arc", "fill": "transparent", "stroke": "#000000", "strokeWidth": 1},
             "encoding": {"x": {"datum": 0, "type": "quantitative"}, "y": {"datum": 0, "type": "quantitative"}, "theta": {"datum": 0, "type": "quantitative"}, "theta2": {"datum": 360}, "radius": {"field": "hi", "type": "quantitative"}}},
            {"data": {"name": "ticks"}, "transform": [{"filter": "datum.p === 'f'"}],
             "mark": {"type": "text", "align": "left", "baseline": "alphabetic", "dx": -1, "dy": -4, "font": "Liberation Serif", "fontSize": 17.5, "color": "#333333"},
             "encoding": {"x": {"datum": 0, "type": "quantitative"}, "y": {"datum": 0, "type": "quantitative"}, "theta": {"datum": 22.5, "type": "quantitative"}, "radius": {"field": "v", "type": "quantitative"}, "text": {"field": "l"}}},
            {"data": {"name": "angles"}, "mark": {"type": "text", "font": "DejaVu Sans", "fontSize": 14.5, "color": "#000000", "radiusOffset": 12.5},
             "encoding": {"x": {"datum": 0, "type": "quantitative"}, "y": {"datum": 0, "type": "quantitative"}, "theta": {"field": "a", "type": "quantitative", "stack": null}, "radius": {"datum": 85.7, "type": "quantitative"}, "text": {"field": "l"}}},
            {"data": {"values": [{"l": "f)"}]}, "mark": {"type": "text", "align": "left", "baseline": "alphabetic", "font": "Open Sans", "fontSize": 24, "color": "#000000"},
             "encoding": {"x": {"datum": -0.875, "type": "quantitative"}, "y": {"datum": 1.173, "type": "quantitative"}, "text": {"field": "l"}}},
            {"data": {"values": [{"l": "φ = 45°"}]}, "mark": {"type": "text", "align": "center", "baseline": "alphabetic", "font": "Liberation Serif", "fontSize": 23, "color": "#333333"},
             "encoding": {"x": {"datum": -0.02, "type": "quantitative"}, "y": {"datum": 1.18, "type": "quantitative"}, "text": {"field": "l"}}}
          ]
        },
        {
          "width": 333, "height": 336,
          "layer": [
            {"data": {"values": [{"lo": -73.7, "hi": 0}]}, "mark": {"type": "arc", "fill": "#e6e6e6", "stroke": "#dadada", "strokeWidth": 0.8},
             "encoding": {"x": {"datum": 0, "type": "quantitative", "scale": {"domain": [-1.25, 1.25], "nice": false, "zero": false}}, "y": {"datum": 0, "type": "quantitative", "scale": {"domain": [-1.1625, 1.36], "nice": false, "zero": false}}, "theta": {"datum": 0, "type": "quantitative", "scale": {"domain": [0, 360], "range": [1.5707963267948966, -4.71238898038469]}}, "theta2": {"datum": 360}, "radius": {"field": "hi", "type": "quantitative", "scale": {"type": "linear", "zero": false, "nice": false, "domain": [-80.33, 112.21], "range": [0, 166.5]}}, "radius2": {"field": "lo"}}},
            {"data": {"name": "angles"}, "mark": {"type": "arc", "fill": "transparent", "stroke": "#cccccc", "strokeWidth": 1},
             "encoding": {"x": {"datum": 0, "type": "quantitative"}, "y": {"datum": 0, "type": "quantitative"}, "theta": {"field": "a", "type": "quantitative", "stack": null}, "theta2": {"field": "a"}, "radius": {"datum": 73.7, "type": "quantitative"}}},
            {"data": {"name": "curves"}, "transform": [{"filter": "datum.p === 'g'"}, {"calculate": "(datum.v + 80.33) / 154.03", "as": "r"}, {"calculate": "datum.r * cos(datum.t * PI / 180)", "as": "px"}, {"calculate": "datum.r * sin(datum.t * PI / 180)", "as": "py"}],
             "mark": {"type": "line", "color": "#ff0000", "strokeWidth": 2.5, "interpolate": "linear-closed", "strokeJoin": "round"},
             "encoding": {"x": {"field": "px", "type": "quantitative"}, "y": {"field": "py", "type": "quantitative"}, "order": {"field": "t", "type": "quantitative"}}},
            {"data": {"values": [{"hi": 73.7}]}, "mark": {"type": "arc", "fill": "transparent", "stroke": "#000000", "strokeWidth": 1},
             "encoding": {"x": {"datum": 0, "type": "quantitative"}, "y": {"datum": 0, "type": "quantitative"}, "theta": {"datum": 0, "type": "quantitative"}, "theta2": {"datum": 360}, "radius": {"field": "hi", "type": "quantitative"}}},
            {"data": {"name": "ticks"}, "transform": [{"filter": "datum.p === 'g'"}],
             "mark": {"type": "text", "align": "left", "baseline": "alphabetic", "dx": -1, "dy": -4, "font": "Liberation Serif", "fontSize": 17.5, "color": "#333333"},
             "encoding": {"x": {"datum": 0, "type": "quantitative"}, "y": {"datum": 0, "type": "quantitative"}, "theta": {"datum": 22.5, "type": "quantitative"}, "radius": {"field": "v", "type": "quantitative"}, "text": {"field": "l"}}},
            {"data": {"name": "angles"}, "mark": {"type": "text", "font": "DejaVu Sans", "fontSize": 14.5, "color": "#000000", "radiusOffset": 12.5},
             "encoding": {"x": {"datum": 0, "type": "quantitative"}, "y": {"datum": 0, "type": "quantitative"}, "theta": {"field": "a", "type": "quantitative", "stack": null}, "radius": {"datum": 73.7, "type": "quantitative"}, "text": {"field": "l"}}},
            {"data": {"values": [{"l": "g)"}]}, "mark": {"type": "text", "align": "left", "baseline": "alphabetic", "font": "Open Sans", "fontSize": 24, "color": "#000000"},
             "encoding": {"x": {"datum": -0.875, "type": "quantitative"}, "y": {"datum": 1.173, "type": "quantitative"}, "text": {"field": "l"}}},
            {"data": {"values": [{"l": "φ = 90°"}]}, "mark": {"type": "text", "align": "center", "baseline": "alphabetic", "font": "Liberation Serif", "fontSize": 23, "color": "#333333"},
             "encoding": {"x": {"datum": -0.02, "type": "quantitative"}, "y": {"datum": 1.18, "type": "quantitative"}, "text": {"field": "l"}}}
          ]
        },
        {
          "width": 333, "height": 336,
          "layer": [
            {"data": {"values": [{"lo": -85.7, "hi": 0}]}, "mark": {"type": "arc", "fill": "#e6e6e6", "stroke": "#dadada", "strokeWidth": 0.8},
             "encoding": {"x": {"datum": 0, "type": "quantitative", "scale": {"domain": [-1.25, 1.25], "nice": false, "zero": false}}, "y": {"datum": 0, "type": "quantitative", "scale": {"domain": [-1.1625, 1.36], "nice": false, "zero": false}}, "theta": {"datum": 0, "type": "quantitative", "scale": {"domain": [0, 360], "range": [1.5707963267948966, -4.71238898038469]}}, "theta2": {"datum": 360}, "radius": {"field": "hi", "type": "quantitative", "scale": {"type": "linear", "zero": false, "nice": false, "domain": [-93.41, 130.48], "range": [0, 166.5]}}, "radius2": {"field": "lo"}}},
            {"data": {"name": "angles"}, "mark": {"type": "arc", "fill": "transparent", "stroke": "#cccccc", "strokeWidth": 1},
             "encoding": {"x": {"datum": 0, "type": "quantitative"}, "y": {"datum": 0, "type": "quantitative"}, "theta": {"field": "a", "type": "quantitative", "stack": null}, "theta2": {"field": "a"}, "radius": {"datum": 85.7, "type": "quantitative"}}},
            {"data": {"name": "curves"}, "transform": [{"filter": "datum.p === 'h'"}, {"calculate": "(datum.v + 93.41) / 179.11", "as": "r"}, {"calculate": "datum.r * cos(datum.t * PI / 180)", "as": "px"}, {"calculate": "datum.r * sin(datum.t * PI / 180)", "as": "py"}],
             "mark": {"type": "line", "color": "#ff0000", "strokeWidth": 2.5, "interpolate": "linear-closed", "strokeJoin": "round"},
             "encoding": {"x": {"field": "px", "type": "quantitative"}, "y": {"field": "py", "type": "quantitative"}, "order": {"field": "t", "type": "quantitative"}}},
            {"data": {"values": [{"hi": 85.7}]}, "mark": {"type": "arc", "fill": "transparent", "stroke": "#000000", "strokeWidth": 1},
             "encoding": {"x": {"datum": 0, "type": "quantitative"}, "y": {"datum": 0, "type": "quantitative"}, "theta": {"datum": 0, "type": "quantitative"}, "theta2": {"datum": 360}, "radius": {"field": "hi", "type": "quantitative"}}},
            {"data": {"name": "ticks"}, "transform": [{"filter": "datum.p === 'h'"}],
             "mark": {"type": "text", "align": "left", "baseline": "alphabetic", "dx": -1, "dy": -4, "font": "Liberation Serif", "fontSize": 17.5, "color": "#333333"},
             "encoding": {"x": {"datum": 0, "type": "quantitative"}, "y": {"datum": 0, "type": "quantitative"}, "theta": {"datum": 22.5, "type": "quantitative"}, "radius": {"field": "v", "type": "quantitative"}, "text": {"field": "l"}}},
            {"data": {"name": "angles"}, "mark": {"type": "text", "font": "DejaVu Sans", "fontSize": 14.5, "color": "#000000", "radiusOffset": 12.5},
             "encoding": {"x": {"datum": 0, "type": "quantitative"}, "y": {"datum": 0, "type": "quantitative"}, "theta": {"field": "a", "type": "quantitative", "stack": null}, "radius": {"datum": 85.7, "type": "quantitative"}, "text": {"field": "l"}}},
            {"data": {"values": [{"l": "h)"}]}, "mark": {"type": "text", "align": "left", "baseline": "alphabetic", "font": "Open Sans", "fontSize": 24, "color": "#000000"},
             "encoding": {"x": {"datum": -0.875, "type": "quantitative"}, "y": {"datum": 1.173, "type": "quantitative"}, "text": {"field": "l"}}},
            {"data": {"values": [{"l": "φ = 135°"}]}, "mark": {"type": "text", "align": "center", "baseline": "alphabetic", "font": "Liberation Serif", "fontSize": 23, "color": "#333333"},
             "encoding": {"x": {"datum": -0.02, "type": "quantitative"}, "y": {"datum": 1.18, "type": "quantitative"}, "text": {"field": "l"}}}
          ]
        }
      ]
    }
  ]
}
